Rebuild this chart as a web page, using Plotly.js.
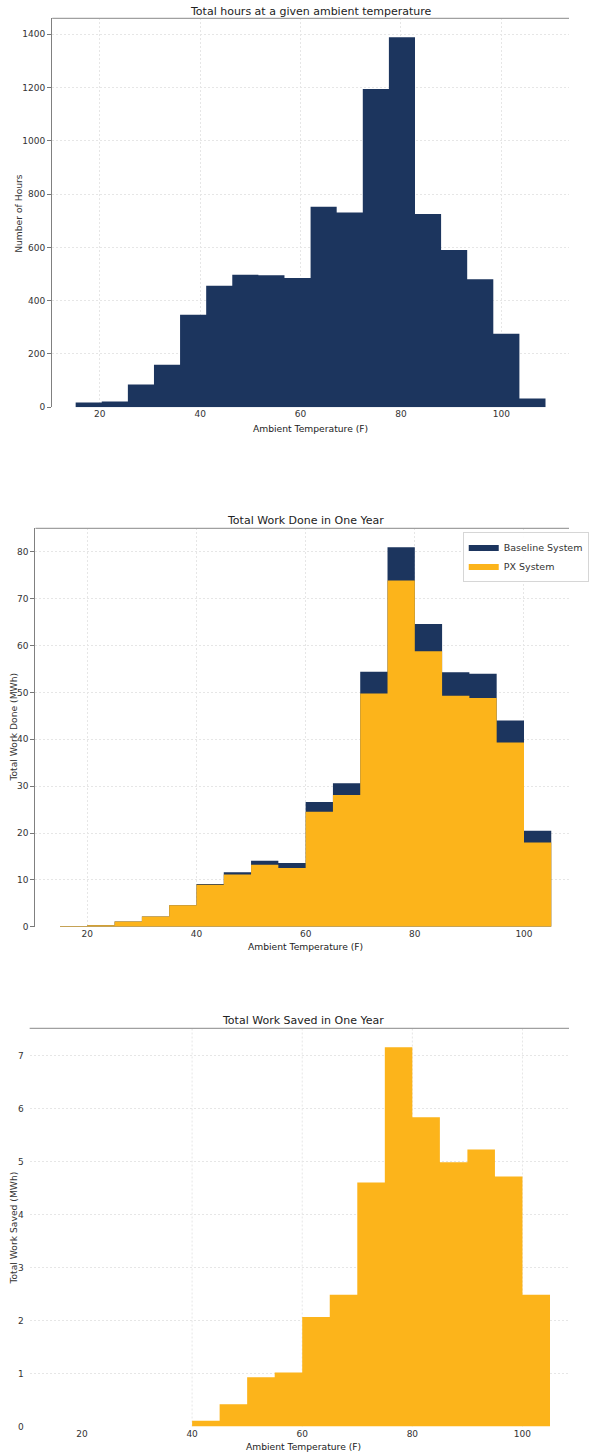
<!DOCTYPE html>
<html>
<head>
<meta charset="utf-8">
<script src="https://cdn.plot.ly/plotly-3.0.1.min.js"></script>
<style>
  html, body { margin: 0; padding: 0; background: #ffffff; }
  #chart { width: 589px; height: 1454px; }
</style>
</head>
<body>
<div id="chart"></div>
<script>
// Hours per ambient-temperature bin (18 equal bins, 15.2 F to 108.8 F)
const hourBinEdges = [15.2, 20.4, 25.6, 30.8, 36.0, 41.2, 46.4, 51.6, 56.8, 62.0,
                      67.2, 72.4, 77.6, 82.8, 88.0, 93.2, 98.4, 103.6, 108.8];
const hoursPerBin = [18, 22, 86, 160, 347, 456, 497, 495, 485, 752,
                     731, 1194, 1388, 725, 590, 480, 276, 33];

// Work per 5 F bin (MWh), 15 F to 105 F
const workBinEdges = [15, 20, 25, 30, 35, 40, 45, 50, 55, 60,
                      65, 70, 75, 80, 85, 90, 95, 100, 105];
const baselineWork = [0.15, 0.3, 1.1, 2.2, 4.6, 9.1, 11.6, 14.1, 13.6, 26.6,
                      30.6, 54.4, 81.0, 64.6, 54.3, 54.0, 44.0, 20.5];
const pxWork = [0.15, 0.3, 1.1, 2.2, 4.6, 8.95, 11.15, 13.2, 12.55, 24.55,
                28.1, 49.8, 73.9, 58.8, 49.3, 48.8, 39.3, 18.0];
const savedWork = [0, 0, 0, 0, 0, 0.11, 0.42, 0.93, 1.02, 2.07,
                   2.49, 4.61, 7.16, 5.84, 4.99, 5.23, 4.72, 2.49];

const hourTicks = [0, 200, 400, 600, 800, 1000, 1200, 1400];
const workTicks = [0, 10, 20, 30, 40, 50, 60, 70, 80];
const savedTicks = [0, 1, 2, 3, 4, 5, 6, 7];
const tempTicks = [20, 40, 60, 80, 100];
const savedGridX = [40, 60, 80, 100];

const NAVY = '#1c355e';
const GOLD = '#fcb41b';
const W = 589, H = 1454;

// A filled step outline for one histogram: one y per bin, repeated at the last edge
function stepTrace(edges, vals, color, name, xa, ya, showLegend) {
  return {
    type: 'scatter', mode: 'lines',
    x: edges, y: vals.concat([vals[vals.length - 1]]),
    line: { shape: 'hv', width: 0, color: color },
    fill: 'tozeroy', fillcolor: color,
    name: name, showlegend: showLegend,
    xaxis: xa, yaxis: ya, hoverinfo: 'x+y'
  };
}

const traces = [
  stepTrace(hourBinEdges, hoursPerBin, NAVY, 'Hours', 'x', 'y', false),
  stepTrace(workBinEdges, baselineWork, NAVY, 'Baseline System', 'x2', 'y2', true),
  stepTrace(workBinEdges, pxWork, GOLD, 'PX System', 'x2', 'y2', true),
  stepTrace(workBinEdges, savedWork, GOLD, 'Saved', 'x3', 'y3', false)
];

const px = v => v / W;          // pixel column -> paper x
const py = v => 1 - v / H;      // pixel row -> paper y

const GRID = '#e6e6e6';
const GRID_DASH = '2px,2px';
function xAxis(domainLeft, range, yAnchor, grid) {
  return {
    domain: [px(domainLeft), 1], range: range, anchor: yAnchor,
    tickvals: tempTicks, ticks: '',
    showgrid: grid, gridcolor: GRID, griddash: GRID_DASH, gridwidth: 1,
    zeroline: false, showline: false, fixedrange: true,
    tickfont: { size: 9, color: '#333' }
  };
}
function yAxis(top, bottom, range, ticks, xAnchor, spine) {
  return {
    domain: [py(bottom), py(top)], range: range, anchor: xAnchor,
    tickvals: ticks, ticks: 'outside', ticklen: spine ? 4 : 3,
    tickcolor: spine ? '#777' : 'rgba(0,0,0,0)', tickwidth: 1,
    showline: spine, linecolor: '#808080', linewidth: 1.2,
    showgrid: true, gridcolor: GRID, griddash: GRID_DASH, gridwidth: 1,
    zeroline: false, fixedrange: true,
    tickfont: { size: 9, color: '#333' }
  };
}

function label(text, x, y, size, angle) {
  return {
    text: text, xref: 'paper', yref: 'paper', x: px(x), y: py(y),
    xanchor: 'center', yanchor: 'middle', showarrow: false,
    textangle: angle || 0, font: { size: size, color: angle ? '#333' : '#222' }
  };
}

const topSpine = (xr, yr) => ({
  type: 'line', xref: xr + ' domain', yref: yr + ' domain',
  x0: 0, x1: 1, y0: 1, y1: 1, line: { color: '#a0a0a0', width: 1.2 }
});

const shapes = [topSpine('x', 'y'), topSpine('x2', 'y2'), topSpine('x3', 'y3')]
  .concat(savedGridX.map(v => ({
    type: 'line', layer: 'below', xref: 'x3', yref: 'y3 domain',
    x0: v, x1: v, y0: 0, y1: 1, line: { color: GRID, width: 1, dash: GRID_DASH }
  })));

const layout = {
  width: W, height: H,
  margin: { l: 0, r: 0, t: 0, b: 0, pad: 0 },
  paper_bgcolor: '#ffffff', plot_bgcolor: '#ffffff',
  font: { family: 'DejaVu Sans, sans-serif', size: 9, color: '#333' },
  showlegend: true,
  legend: {
    x: px(479), y: py(531.5), xanchor: 'left', yanchor: 'top',
    bgcolor: 'rgba(255,255,255,0.9)', bordercolor: '#d6d6d6', borderwidth: 1,
    font: { size: 9.5, color: '#333' }, itemwidth: 30, tracegroupgap: 0,
    traceorder: 'normal'
  },
  xaxis: xAxis(54, [10.52, 113.48], 'y', true),
  yaxis: yAxis(18.3, 407.3, [0, 1459.5], hourTicks, 'x', true),
  xaxis2: xAxis(36.7, [10.5, 108.25], 'y2', true),
  yaxis2: yAxis(528.3, 926.7, [0, 85.05], workTicks, 'x2', true),
  xaxis3: xAxis(30.7, [10.5, 108.45], 'y3', false),
  yaxis3: yAxis(1028.3, 1426.5, [0, 7.52], savedTicks, 'x3', false),
  shapes: shapes,
  annotations: [
    label('Total hours at a given ambient temperature', 322, 11.5, 11),
    label('Ambient Temperature (F)', 321.5, 428, 9.2),
    label('Number of Hours', 18.5, 213, 9.2, -90),
    label('Total Work Done in One Year', 316.5, 521, 11),
    label('Ambient Temperature (F)', 316, 946.5, 9.2),
    label('Total Work Done (MWh)', 13, 727, 9.2, -90),
    label('Total Work Saved in One Year', 313.5, 1021, 11),
    label('Ambient Temperature (F)', 314, 1446, 9.2),
    label('Total Work Saved (MWh)', 13, 1228, 9.2, -90)
  ]
};

Plotly.newPlot('chart', traces, layout, { staticPlot: true, displayModeBar: false });
</script>
</body>
</html>
